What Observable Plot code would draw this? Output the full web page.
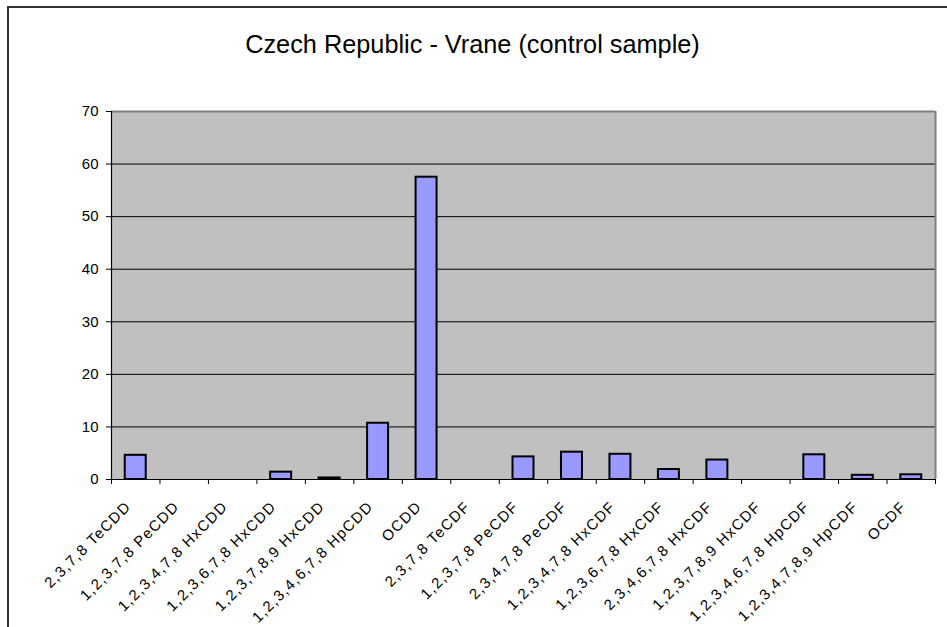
<!DOCTYPE html>
<html>
<head>
<meta charset="utf-8">
<script src="https://cdn.jsdelivr.net/npm/d3@7"></script>
<script src="https://cdn.jsdelivr.net/npm/@observablehq/plot@0.6"></script>
<style>
  html, body { margin: 0; padding: 0; background: #fff; }
  #wrap { position: relative; width: 947px; height: 627px; overflow: hidden; font-family: "Liberation Sans", Arial, sans-serif; }
  #border { position: absolute; left: 7px; top: 6px; width: 1200px; height: 1200px; border-top: 2px solid #333; border-left: 2px solid #333; pointer-events: none; }
  #title { position: relative; height: 90px; box-sizing: border-box; padding-top: 32px; line-height: 25px; font-size: 25.3px; text-align: center; color: #000; width: 945px; }
  #chart svg { display: block; }
  .xlab text { letter-spacing: 1.3px; }
</style>
</head>
<body>
<div id="wrap">
  <div id="border"></div>
  <div id="title">Czech Republic - Vrane (control sample)</div>
  <div id="chart"></div>
</div>
<script>
const categories = [
  "2,3,7,8 TeCDD", "1,2,3,7,8 PeCDD", "1,2,3,4,7,8 HxCDD", "1,2,3,6,7,8 HxCDD",
  "1,2,3,7,8,9 HxCDD", "1,2,3,4,6,7,8 HpCDD", "OCDD", "2,3,7,8 TeCDF",
  "1,2,3,7,8 PeCDF", "2,3,4,7,8 PeCDF", "1,2,3,4,7,8 HxCDF", "1,2,3,6,7,8 HxCDF",
  "2,3,4,6,7,8 HxCDF", "1,2,3,7,8,9 HxCDF", "1,2,3,4,6,7,8 HpCDF", "1,2,3,4,7,8,9 HpCDF", "OCDF"
];
const values = [4.6, 0, 0, 1.4, 0.3, 10.7, 57.5, 0, 4.3, 5.2, 4.8, 1.9, 3.7, 0, 4.7, 0.8, 0.9];
const yTicks = [0, 10, 20, 30, 40, 50, 60, 70];
const gridTicks = [10, 20, 30, 40, 50, 60];

const data = categories.map((name, i) => ({name, value: values[i]}));

const W = 947, H = 537, ML = 111, MR = 12, MT = 21, MB = 148;
const step = (W - ML - MR) / categories.length;
const last = categories[categories.length - 1];

const chart = Plot.plot({
  width: W, height: H,
  marginLeft: ML, marginRight: MR, marginTop: MT, marginBottom: MB,
  style: {background: "transparent", fontFamily: "'Liberation Sans', Arial, sans-serif", color: "#000", overflow: "visible"},
  x: {type: "band", domain: categories, paddingInner: 0.567, paddingOuter: 0.2835, round: false, axis: null},
  y: {domain: [0, 70], axis: null, label: null},
  marks: [
    Plot.frame({fill: "#c0c0c0", stroke: null}),
    Plot.ruleY(gridTicks, {stroke: "#000", strokeWidth: 1}),
    Plot.ruleY([70], {stroke: "#808080", strokeWidth: 2}),
    Plot.ruleX([last], {dx: step / 2, stroke: "#808080", strokeWidth: 2}),
    Plot.barY(data, {x: "name", y: "value", fill: "#9999ff", stroke: "#000", strokeWidth: 2, filter: d => d.value > 0}),
    Plot.ruleY([0], {stroke: "#000", strokeWidth: 1.2}),
    Plot.ruleX([categories[0]], {dx: -step / 2, stroke: "#000", strokeWidth: 1.2}),
    Plot.ruleX(categories, {x: d => d, dx: -step / 2, y1: 0, y2: 0, insetBottom: -5, stroke: "#000", strokeWidth: 1}),
    Plot.ruleX([last], {x: d => d, dx: step / 2, y1: 0, y2: 0, insetBottom: -5, stroke: "#000", strokeWidth: 1}),
    Plot.axisY(yTicks, {tickSize: 5, tickPadding: 8, fontSize: 15, label: null, stroke: "#000"}),
    Plot.text(categories, {x: d => d, frameAnchor: "bottom", rotate: -45, textAnchor: "end", lineAnchor: "bottom", dx: -4, dy: 28, fontSize: 15, fill: "#000", className: "xlab"})
  ]
});
document.getElementById("chart").appendChild(chart);
</script>
</body>
</html>
